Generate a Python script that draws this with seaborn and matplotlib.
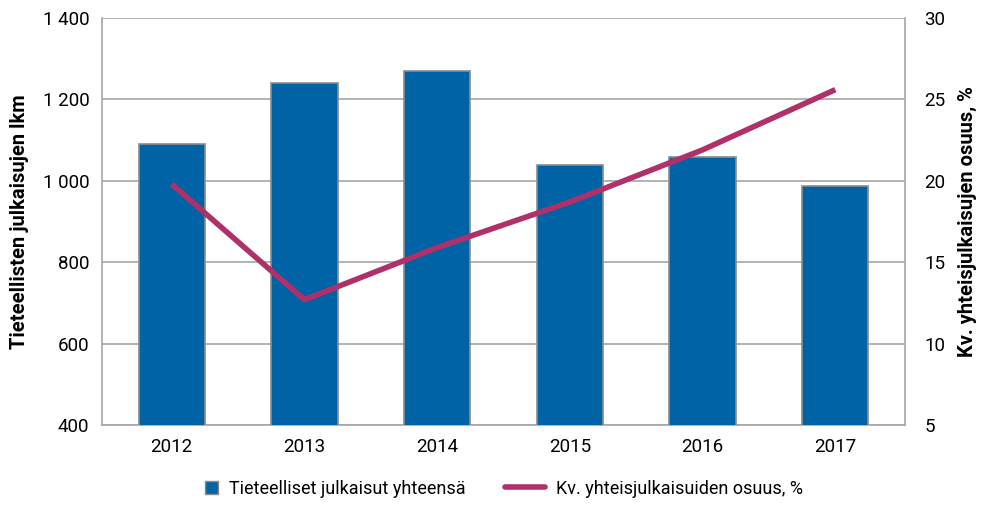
import numpy as np
import pandas as pd
import matplotlib
matplotlib.use("Agg")
import matplotlib.pyplot as plt
from matplotlib.lines import Line2D
from matplotlib.patches import Patch, Rectangle
from matplotlib.legend_handler import HandlerPatch
import seaborn as sns

# ── Data ──────────────────────────────────────────────────────────────────────
years = ["2012", "2013", "2014", "2015", "2016", "2017"]
publications = [1091, 1241, 1269, 1040, 1058, 987]
coauthored_share = [19.8, 12.7, 15.9, 18.7, 21.9, 25.6]

BAR_COLOR = "#0063A6"
LINE_COLOR = "#B0306A"
GRID = "#A6A6A6"

# ── Style ─────────────────────────────────────────────────────────────────────
sns.set_theme(style="white")
plt.rcParams["font.family"] = ["Roboto", "DejaVu Sans"]
plt.rcParams.update({"text.color": "black", "axes.labelcolor": "black",
                     "xtick.color": "black", "ytick.color": "black"})


def square_patch(legend, orig_handle, xdescent, ydescent, width, height, fontsize):
    # small square at the right end of the handle box, like the original legend
    s = height * 1.05
    return Rectangle((width - s - xdescent, (height - s) / 2 - ydescent), s, s)


df = pd.DataFrame({"year": years, "count": publications})

fig = plt.figure(figsize=(9.81, 5.14), dpi=100)
ax = fig.add_axes([0.104, 0.173, 0.8185, 0.792])

sns.barplot(data=df, x="year", y="count", color=BAR_COLOR, width=0.5,
            edgecolor="#8C8C8C", linewidth=1.2, saturation=1, ax=ax, zorder=3)
ax.set_ylim(400, 1400)
ax.set_yticks(np.arange(400, 1401, 200))
ax.set_yticklabels([f"{v:,}".replace(",", " ") if v >= 1000 else str(v)
                    for v in range(400, 1401, 200)])
ax.yaxis.grid(True, color=GRID, linewidth=1.2, zorder=0)
ax.set_axisbelow(True)
ax.set_xlabel("")
ax.set_ylabel("Tieteellisten julkaisujen lkm", fontsize=14.5, fontweight="bold", labelpad=10)
ax.tick_params(axis="both", labelsize=13.5, length=0, pad=9)

for side in ["left", "right", "bottom"]:
    ax.spines[side].set_color(GRID)
    ax.spines[side].set_linewidth(1.2)
ax.spines["top"].set_visible(False)

ax2 = ax.twinx()
ax2.plot(range(len(years)), coauthored_share, color=LINE_COLOR, linewidth=4,
         solid_capstyle="butt", zorder=4)
ax2.set_ylim(5, 30)
ax2.set_yticks(np.arange(5, 31, 5))
ax2.tick_params(axis="y", labelsize=13.5, length=0, pad=14)
ax2.set_ylabel("Kv. yhteisjulkaisujen osuus, %", fontsize=14.5, fontweight="bold", labelpad=9)
for side in ["left", "right", "bottom", "top"]:
    ax2.spines[side].set_visible(False)

handles = [
    Patch(facecolor=BAR_COLOR, edgecolor="#8C8C8C", label="Tieteelliset julkaisut yhteensä"),
    Line2D([], [], color=LINE_COLOR, linewidth=4, label="Kv. yhteisjulkaisuiden osuus, %"),
]
fig.legend(handles=handles, loc="lower center", bbox_to_anchor=(0.5, 0.0), ncol=2,
           frameon=False, fontsize=13, handlelength=2.2, columnspacing=2.2,
           handletextpad=0.6,
           handler_map={Patch: HandlerPatch(patch_func=square_patch)})

fig.savefig("out.png", dpi=100, facecolor="white")
